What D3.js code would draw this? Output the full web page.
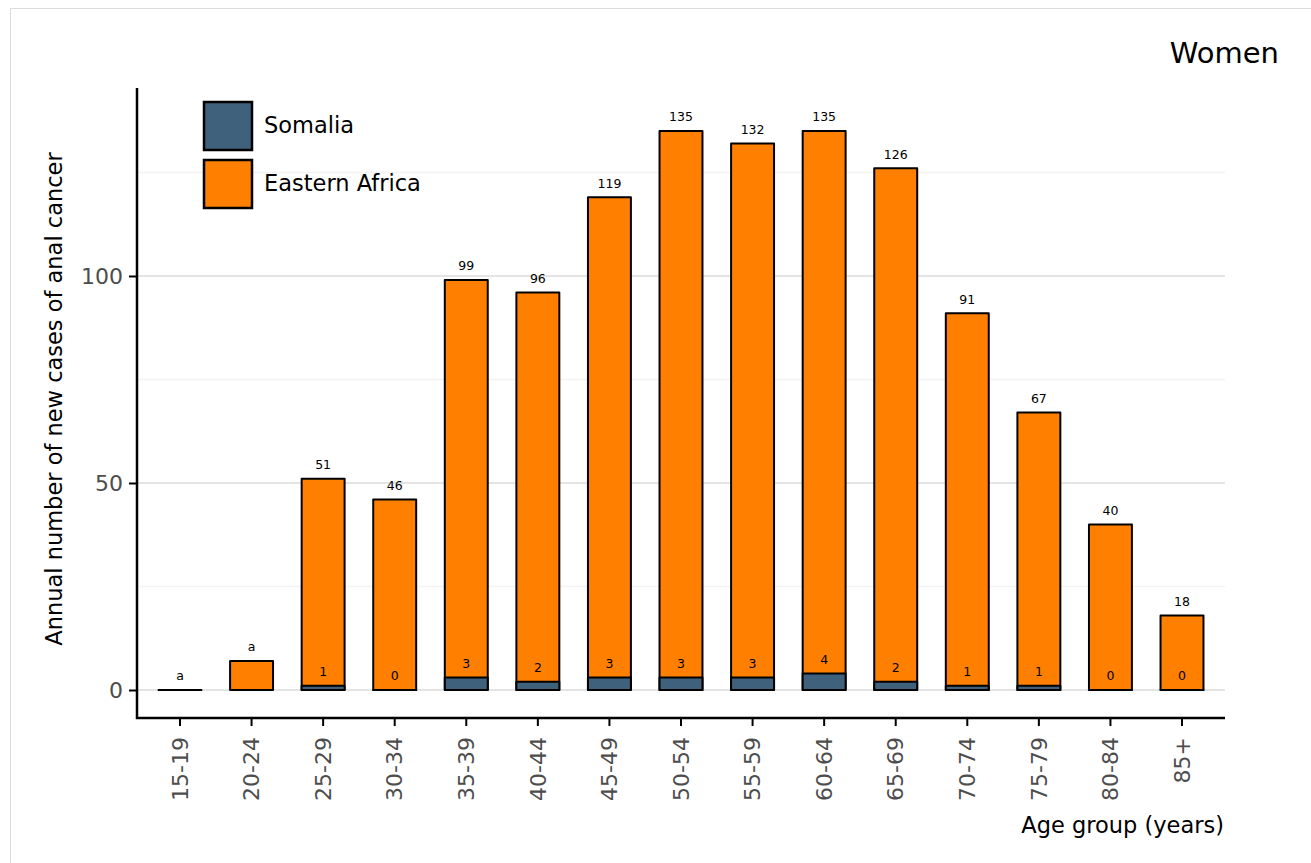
<!DOCTYPE html>
<html><head><meta charset="utf-8">
<script src="https://cdn.jsdelivr.net/npm/d3@7"></script>
<style>body{margin:0;background:#fff}svg{display:block;font-family:"DejaVu Sans",sans-serif}</style>
</head><body>
<svg id="c" width="1311" height="863"></svg>
<script>
const categories = ["15-19","20-24","25-29","30-34","35-39","40-44","45-49","50-54","55-59","60-64","65-69","70-74","75-79","80-84","85+"];
const easternAfrica = [0,7,51,46,99,96,119,135,132,135,126,91,67,40,18];
const easternAfricaLabels = ["a","a","51","46","99","96","119","135","132","135","126","91","67","40","18"];
const somalia = [null,null,1,0,3,2,3,3,3,4,2,1,1,0,0];
const somaliaLabels = [null,null,"1","0","3","2","3","3","3","4","2","1","1","0","0"];
const yTicks = [0,50,100];
const yMinor = [25,75,125];
const seriesNames = ["Somalia","Eastern Africa"];
const colors = {"Somalia":"#40617b","Eastern Africa":"#ff8000"};

const svg = d3.select("#c");
svg.append("rect").attr("x",10.5).attr("y",8.5).attr("width",1310).attr("height",860)
  .attr("fill","#fff").attr("stroke","#dcdcdc");

const x = d3.scaleBand().domain(categories).range([144.2,1217.8]).paddingInner(0.4).paddingOuter(0.2);
const y = d3.scaleLinear().domain([-6.76,145.4]).range([718,88]);
const xl = 137, xr = 1225;

// grid
svg.append("g").selectAll("line").data(yMinor).join("line")
  .attr("x1",xl).attr("x2",xr).attr("y1",d=>y(d)).attr("y2",d=>y(d))
  .attr("stroke","#f3f3f3").attr("stroke-width",1.5);
svg.append("g").selectAll("line").data(yTicks).join("line")
  .attr("x1",xl).attr("x2",xr).attr("y1",d=>y(d)).attr("y2",d=>y(d))
  .attr("stroke","#e4e4e4").attr("stroke-width",2);

function barPath(c, v) {
  const x0 = x(c), x1 = x(c) + x.bandwidth(), y0 = y(0), y1 = y(v);
  return `M${x0},${y0}H${x1}V${y1}H${x0}Z`;
}
// bars
const gEA = svg.append("g");
categories.forEach((c,i)=>{
  gEA.append("path").attr("d",barPath(c,easternAfrica[i]))
    .attr("fill",colors["Eastern Africa"]).attr("stroke","#000").attr("stroke-width",2)
    .attr("stroke-linejoin","round");
});
const gS = svg.append("g");
categories.forEach((c,i)=>{
  const v = somalia[i];
  if (v===null) return;
  gS.append("path").attr("d",barPath(c,v))
    .attr("fill",colors["Somalia"]).attr("stroke","#000").attr("stroke-width",2)
    .attr("stroke-linejoin","round");
});
// labels
categories.forEach((c,i)=>{
  const cx = x(c)+x.bandwidth()/2;
  svg.append("text").attr("x",cx).attr("y",y(easternAfrica[i])-14).attr("dy","0.35em")
    .attr("text-anchor","middle").attr("font-size",12.5).attr("fill","#000").text(easternAfricaLabels[i]);
  if (somaliaLabels[i]!==null)
    svg.append("text").attr("x",cx).attr("y",y(somalia[i])-14).attr("dy","0.35em")
      .attr("text-anchor","middle").attr("font-size",12.5).attr("fill","#000").text(somaliaLabels[i]);
});

// axes
const ya = svg.append("g").attr("transform",`translate(${xl},0)`)
  .call(d3.axisLeft(y).tickValues(yTicks).tickSize(8).tickPadding(6));
ya.select(".domain").remove();
ya.selectAll(".tick line").attr("stroke","#000").attr("stroke-width",2);
ya.selectAll(".tick text").attr("font-size",22).attr("fill","#4d4d4d").attr("font-family","DejaVu Sans");
svg.append("line").attr("x1",xl).attr("x2",xl).attr("y1",88).attr("y2",719).attr("stroke","#000").attr("stroke-width",2.5);

const xa = svg.append("g").attr("transform",`translate(0,718)`)
  .call(d3.axisBottom(x).tickSize(8).tickPadding(4));
xa.select(".domain").remove();
xa.selectAll(".tick line").attr("stroke","#000").attr("stroke-width",2);
xa.selectAll(".tick text").attr("font-size",22).attr("fill","#4d4d4d").attr("font-family","DejaVu Sans")
  .attr("transform","rotate(-90)").attr("text-anchor","end").attr("x",-19).attr("y",0).attr("dy","0.35em");
svg.append("line").attr("x1",xl-1).attr("x2",xr).attr("y1",718).attr("y2",718).attr("stroke","#000").attr("stroke-width",2.5);

// titles
svg.append("text").attr("transform","translate(62,399) rotate(-90)").attr("text-anchor","middle")
  .attr("font-size",22.5).attr("fill","#000").text("Annual number of new cases of anal cancer");
svg.append("text").attr("x",1224).attr("y",833).attr("text-anchor","end")
  .attr("font-size",22.5).attr("fill","#000").text("Age group (years)");
svg.append("text").attr("x",1279).attr("y",63).attr("text-anchor","end")
  .attr("font-size",29).attr("fill","#000").text("Women");

// legend
const lg = svg.append("g");
seriesNames.forEach((n,i)=>{
  const yy = 101 + i*58;
  lg.append("rect").attr("x",204).attr("y",yy+1).attr("width",48).attr("height",48)
    .attr("fill",colors[n]).attr("stroke","#000").attr("stroke-width",2.5);
  lg.append("text").attr("x",264).attr("y",yy+24).attr("dy","0.35em")
    .attr("font-size",22.5).attr("fill","#000").text(n);
});
</script>
</body></html>
